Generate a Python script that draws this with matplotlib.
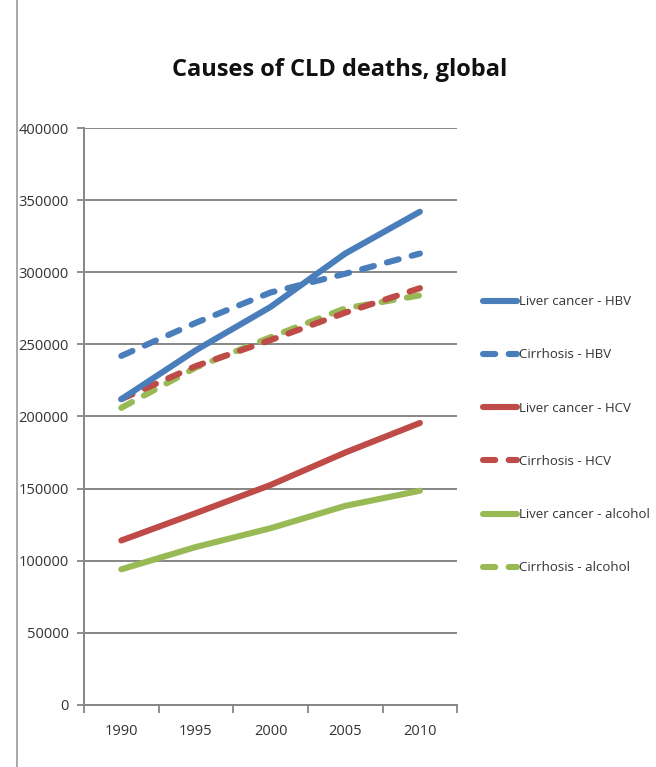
import matplotlib
matplotlib.use("Agg")
import matplotlib.pyplot as plt
from matplotlib.lines import Line2D
from matplotlib.ticker import FixedLocator

plt.rcParams['font.family'] = ['Open Sans', 'DejaVu Sans']

years = ["1990", "1995", "2000", "2005", "2010"]

liver_hbv = [212000, 246000, 276000, 313000, 342000]
cirrhosis_hbv = [242000, 265000, 286000, 299000, 313000]
liver_hcv = [114000, 133000, 152500, 175000, 195500]
cirrhosis_hcv = [212000, 235000, 253000, 272000, 289000]
liver_alcohol = [94000, 109500, 122500, 138000, 148500]
cirrhosis_alcohol = [206000, 234000, 255000, 275000, 284000]

labels = ["Liver cancer - HBV", "Cirrhosis - HBV", "Liver cancer - HCV",
          "Cirrhosis - HCV", "Liver cancer - alcohol", "Cirrhosis - alcohol"]

BLUE = "#4A7EBB"
RED = "#BE4B48"
GREEN = "#98B954"

series = [
    (liver_hbv, BLUE, "-"),
    (cirrhosis_hbv, BLUE, "--"),
    (liver_hcv, RED, "-"),
    (cirrhosis_hcv, RED, "--"),
    (liver_alcohol, GREEN, "-"),
    (cirrhosis_alcohol, GREEN, "--"),
]

LW = 4.4
DASH = (2.0, 2.2)

fig = plt.figure(figsize=(6.56, 7.67), dpi=100)
ax = fig.add_axes([0.128, 0.081, 0.569, 0.752])

x = list(range(len(years)))
draw_order = [5, 3, 1, 4, 2, 0]
for i in draw_order:
    vals, col, ls = series[i]
    kw = dict(dashes=DASH) if ls == "--" else {}
    ax.plot(x, vals, color=col, linestyle=ls, linewidth=LW,
            solid_capstyle="round", dash_capstyle="round",
            solid_joinstyle="round", label=labels[i], zorder=3, **kw)

ax.set_xlim(-0.5, 4.5)
ax.set_ylim(0, 400000)
ax.set_yticks(range(0, 400001, 50000))
ax.set_yticklabels([str(v) for v in range(0, 400001, 50000)])
ax.set_xticks(x)
ax.set_xticklabels(years)
ax.xaxis.set_minor_locator(FixedLocator([-0.5, 0.5, 1.5, 2.5, 3.5, 4.5]))
ax.tick_params(axis="x", which="major", length=0, pad=14, labelsize=10.5, labelcolor="#333333")
ax.tick_params(axis="x", which="minor", length=6, width=1.3, color="#868686", direction="out")
ax.tick_params(axis="y", length=5, width=1.3, color="#868686", labelsize=10.5,
               labelcolor="#333333", pad=6)

ax.grid(axis="y", color="#868686", linewidth=1.4, zorder=0)
ax.set_axisbelow(True)
for side in ("top", "right"):
    ax.spines[side].set_visible(False)
for side in ("left", "bottom"):
    ax.spines[side].set_color("#868686")
    ax.spines[side].set_linewidth(1.4)

fig.text(0.518, 0.909, "Causes of CLD deaths, global", ha="center", va="center",
         fontsize=17, fontweight="bold", color="#111111")

# chart frame edge on the left
fig.add_artist(Line2D([17 / 656, 17 / 656], [0, 1], transform=fig.transFigure,
                      color="#9a9a9a", linewidth=1.2))

leg_handles = []
for vals, col, ls in series:
    kw = dict(dashes=DASH) if ls == "--" else {}
    leg_handles.append(Line2D([0], [0], color=col, linewidth=LW, linestyle=ls,
                              solid_capstyle="round", dash_capstyle="round", **kw))
leg = fig.legend(leg_handles, labels, loc="upper left",
                 bbox_to_anchor=(0.728, 0.622), frameon=False,
                 fontsize=9.5, handlelength=2.6, handletextpad=0.15,
                 labelspacing=3.05, borderaxespad=0)
for t in leg.get_texts():
    t.set_color("#333333")

fig.savefig("out.png", dpi=100)
